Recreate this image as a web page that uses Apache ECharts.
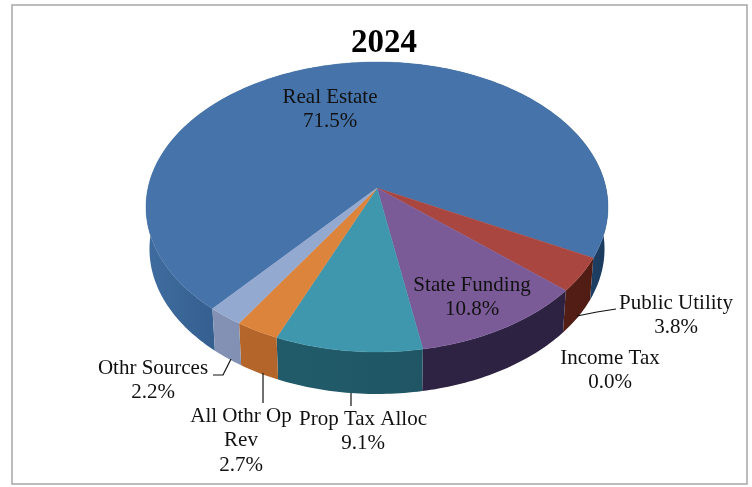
<!DOCTYPE html>
<html>
<head>
<meta charset="utf-8">
<style>html,body{margin:0;padding:0;background:#fff}#chart{width:752px;height:487px}</style>
<script src="https://cdn.jsdelivr.net/npm/echarts@6/dist/echarts.min.js"></script>
</head>
<body>
<div id="chart"></div>
<script>
// Revenue sources for 2024, in percent, listed clockwise from Real Estate.
const chartTitle = '2024';
const categories = ['Real Estate', 'Public Utility', 'Income Tax', 'State Funding', 'Prop Tax Alloc', 'All Othr Op\nRev', 'Othr Sources'];
const values = [71.5, 3.8, 0.0, 10.8, 9.1, 2.7, 2.2];

const topColors = ['#4673a9', '#a9463f', '#a9463f', '#7a5a97', '#3f97ae', '#dc843c', '#94a9d0'];
const wallStops = [
  [[0, '#3f6c9f'], [0.15, '#345f8f'], [0.9, '#24496f'], [1, '#1a3a5c']],
  [[0, '#6b2a1e'], [1, '#4f1c14']],
  [[0, '#6b2a1e'], [1, '#4f1c14']],
  [[0, '#33264a'], [1, '#2c2140']],
  [[0, '#226070'], [1, '#1e4f5c']],
  [[0, '#b8682c'], [1, '#a85c26']],
  [[0, '#8594b8'], [1, '#75849f']]
];

// Text centres for each label (first line) and the leader lines.
const labelCentres = [[330, 97], [676, 303], [610, 358], [472, 285], [363, 419], [241, 416], [153, 368]];
const leaderLines = [
  [[577, 316], [597, 312], [616, 309]],
  [[351, 393], [351, 406]],
  [[263, 373], [263, 403]],
  [[231, 359], [223, 375], [213, 375]]
];

// Perspective disc: a unit circle seen from above, with the near side enlarged.
const disc = { cx: 377, cy: 188, rx: 229, ry: 142.5, k: 0.131, depth: 42, baseScale: 0.985 };
const startAngle = 130.3;   // screen degrees clockwise from +x where the first slice starts

function project(deg, base) {
  const a = deg * Math.PI / 180;
  const u = Math.cos(a), v = Math.sin(a);
  const w = 1 - disc.k * v;
  const s = base ? disc.baseScale : 1;
  return [disc.cx + s * disc.rx * u / w, disc.cy + (base ? disc.depth : 0) + disc.ry * v / w];
}
function arc(from, to, base) {
  const pts = [];
  const n = Math.max(1, Math.ceil(Math.abs(to - from)));
  for (let i = 0; i <= n; i++) pts.push(project(from + (to - from) * i / n, base));
  return pts;
}

const total = values.reduce((s, v) => s + v, 0);

function renderSlice(params, api) {
  const i = params.dataIndex;
  let before = 0;
  for (let j = 0; j < i; j++) before += values[j];
  const from = startAngle + before / total * 360;
  const to = from + api.value(0) / total * 360;
  const children = [];
  if (to > from) {
    const wall = arc(from, to, false).concat(arc(to, from, true));
    const wallFill = new echarts.graphic.LinearGradient(146, 0, 608, 0,
      wallStops[i].map(s => ({ offset: s[0], color: s[1] })), true);
    children.push({
      type: 'polygon', z2: 1,
      shape: { points: wall },
      style: { fill: wallFill, stroke: null }
    });
    children.push({
      type: 'polygon', z2: 2,
      shape: { points: [[disc.cx, disc.cy]].concat(arc(from, to, false)) },
      style: { fill: topColors[i], stroke: topColors[i], lineWidth: 0.4 }
    });
  }
  children.push({
    type: 'text', z2: 5,
    x: labelCentres[i][0], y: labelCentres[i][1] - 12,
    style: {
      text: categories[i] + '\n' + api.value(0).toFixed(1) + '%',
      align: 'center', verticalAlign: 'top',
      font: '21px "Liberation Serif"', lineHeight: 24.5, fill: '#111'
    }
  });
  return { type: 'group', children };
}

const chart = echarts.init(document.getElementById('chart'), null, { renderer: 'canvas' });
chart.setOption({
  animation: false,
  backgroundColor: '#ffffff',
  title: {
    text: chartTitle, left: 379, top: 20, textAlign: 'center',
    textStyle: { fontFamily: 'Liberation Serif', fontWeight: 'bold', fontSize: 33, color: '#000', lineHeight: 36 }
  },
  graphic: [
    { type: 'rect', z: -1, shape: { x: 12, y: 5, width: 735, height: 479 },
      style: { fill: '#fff', stroke: '#a6a6a6', lineWidth: 1.5 } }
  ].concat(leaderLines.map(p => ({
    type: 'polyline', z: 10, shape: { points: p },
    style: { fill: null, stroke: '#111', lineWidth: 1.2 }
  }))),
  series: [{
    type: 'custom',
    coordinateSystem: 'none',
    renderItem: renderSlice,
    data: values.map(v => [v]),
    encode: { value: 0 },
    silent: true
  }]
});
</script>
</body>
</html>
